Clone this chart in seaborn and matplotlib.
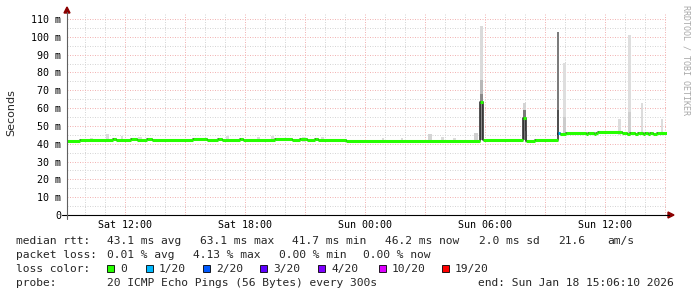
import matplotlib
matplotlib.use("Agg")
import matplotlib.pyplot as plt
import seaborn as sns
import pandas as pd
from matplotlib.patches import Rectangle, Polygon
from matplotlib.lines import Line2D

# ---------------- data (time = hours since Sat 00:00) ----------------
median_t = [9.10, 9.75, 11.40, 11.55, 12.30, 12.60, 13.10, 13.35, 15.40, 16.10,
            16.65, 16.85, 17.75, 17.90, 19.50, 20.35, 20.75, 21.10, 21.50, 21.65,
            23.05, 29.75, 29.90, 31.90, 32.05, 32.50, 33.65, 33.75, 34.05, 35.05,
            35.15, 35.45, 35.55, 35.65, 36.85, 37.10, 37.25, 37.50, 37.65, 37.90,
            38.00, 38.15, 38.25, 38.40, 38.60, 39.10]
median_v = [41.4, 42.2, 42.7, 42.2, 42.7, 42.2, 42.7, 42.2, 42.7, 42.2,
            42.7, 42.2, 42.7, 42.2, 42.7, 42.2, 42.7, 42.2, 42.7, 42.2,
            41.7, 63.4, 42.2, 54.4, 41.3, 42.1, 45.8, 45.5, 46.0, 45.4,
            46.0, 45.4, 46.0, 46.7, 46.0, 45.4, 46.0, 45.4, 46.0, 45.4,
            46.0, 45.4, 46.0, 45.4, 46.0, 46.0]
median_loss = [0, 0, 0, 0, 0, 0, 0, 0, 0, 0,
               0, 0, 0, 0, 0, 0, 0, 0, 0, 0,
               0, 0, 0, 0, 0, 0, 1, 0, 0, 0,
               0, 0, 0, 0, 0, 0, 0, 0, 0, 0,
               0, 0, 0, 0, 0, 0]

smoke_t0 = [10.25, 11.05, 11.80, 12.65, 17.05, 18.60, 19.30, 20.85, 21.80, 24.85,
            25.80, 27.15, 27.80, 28.40, 29.45, 29.75, 29.75, 29.75, 31.90, 31.90,
            32.00, 33.60, 33.60, 33.90, 33.90, 36.65, 37.15, 37.15, 37.80, 38.80]
smoke_t1 = [10.40, 11.20, 11.90, 12.85, 17.20, 18.75, 19.45, 21.05, 21.95, 24.95,
            25.90, 27.35, 27.95, 28.55, 29.65, 29.90, 29.90, 29.90, 32.05, 32.05,
            32.10, 33.70, 33.70, 34.05, 34.05, 36.80, 37.30, 37.30, 37.90, 38.90]
smoke_lo = [41.0, 41.0, 41.0, 41.0, 41.0, 41.0, 41.0, 41.0, 41.0, 40.5,
            40.5, 40.5, 40.5, 40.5, 40.5, 42.0, 42.0, 42.0, 42.0, 42.0,
            41.0, 45.0, 45.0, 45.0, 45.0, 45.0, 45.0, 45.0, 45.0, 45.0]
smoke_hi = [43.5, 45.3, 44.5, 44.0, 44.5, 44.0, 44.2, 44.0, 43.8, 43.4,
            43.2, 45.5, 44.0, 43.2, 46.0, 106.0, 76.0, 68.0, 63.0, 59.0,
            47.0, 103.0, 59.0, 85.5, 55.0, 54.0, 101.0, 58.0, 63.0, 54.0]
smoke_shade = ['#dcdcdc', '#dcdcdc', '#dcdcdc', '#dcdcdc', '#dcdcdc', '#dcdcdc', '#dcdcdc', '#dcdcdc', '#dcdcdc', '#dcdcdc',
               '#dcdcdc', '#d4d4d4', '#dcdcdc', '#dcdcdc', '#d0d0d0', '#dadada', '#b8b8b8', '#8a8a8a', '#d4d4d4', '#7a7a7a',
               '#cfcfcf', '#7c7c7c', '#505050', '#dedede', '#cccccc', '#dcdcdc', '#dedede', '#cfcfcf', '#dcdcdc', '#dcdcdc']

tick_hours = [12, 18, 24, 30, 36]
tick_labels = ['Sat 12:00', 'Sat 18:00', 'Sun 00:00', 'Sun 06:00', 'Sun 12:00']
y_ticks = [0, 10, 20, 30, 40, 50, 60, 70, 80, 90, 100, 110]
y_labels = ['0', '10 m', '20 m', '30 m', '40 m', '50 m', '60 m', '70 m', '80 m', '90 m', '100 m', '110 m']

loss_labels = ['0', '1/20', '2/20', '3/20', '4/20', '10/20', '19/20']
loss_colors = ['#26ff00', '#00b8ff', '#0059ff', '#5e00ff', '#7e00ff', '#dd00ff', '#ff0000']

stats_rtt = ['median rtt:', '43.1 ms avg', '63.1 ms max', '41.7 ms min', '46.2 ms now', '2.0 ms sd', '21.6', 'am/s']
stats_loss = ['packet loss:', '0.01 % avg', '4.13 % max', '0.00 % min', '0.00 % now']
probe_text = '20 ICMP Echo Pings (56 Bytes) every 300s'
end_text = 'end: Sun Jan 18 15:06:10 2026'

# ---------------- figure ----------------
sns.set_style("white")
plt.rcParams['font.family'] = ['DejaVu Sans Mono', 'DejaVu Sans']
W, H = 697, 297
fig = plt.figure(figsize=(W / 100, H / 100), dpi=100)
fig.patch.set_facecolor('white')


def fx(x):
    return x / W


def fy(y):
    return 1 - y / H


ax = fig.add_axes([fx(67), fy(215), 600 / W, 202 / H])
ax.set_xlim(9.1, 39.1)
ax.set_ylim(0, 113.4)
for s in ax.spines.values():
    s.set_visible(False)

# grid
dot = (0, (1, 1.5))
for h in range(10, 40):
    major = (h % 3 == 0)
    ax.axvline(h, color='#f2b4b4' if major else '#d6d6d6', lw=0.72, ls=dot, zorder=0)
for v in range(5, 115, 5):
    major = (v % 10 == 0)
    ax.axhline(v, color='#f2b4b4' if major else '#d6d6d6', lw=0.72, ls=dot, zorder=0)

# smoke
df_smoke = pd.DataFrame({'t0': smoke_t0, 't1': smoke_t1, 'lo': smoke_lo,
                         'hi': smoke_hi, 'shade': smoke_shade})
ax.bar(df_smoke['t0'], df_smoke['hi'] - df_smoke['lo'], bottom=df_smoke['lo'],
       width=df_smoke['t1'] - df_smoke['t0'], align='edge', color=df_smoke['shade'],
       linewidth=0, zorder=2)

# median: dark step line + loss-coloured segments
df_med = pd.DataFrame({'t': median_t, 'v': median_v, 'loss': median_loss})
sns.lineplot(data=df_med, x='t', y='v', drawstyle='steps-post', color='#202020',
             lw=1.1, ax=ax, zorder=3, estimator=None)
seg_colors = [loss_colors[l] for l in median_loss[:-1]]
ax.hlines(median_v[:-1], median_t[:-1], median_t[1:], colors=seg_colors, lw=2.2, zorder=4)

ax.set_xlabel('')
ax.set_ylabel('')
ax.set_xticks(tick_hours)
ax.set_xticklabels(tick_labels)
ax.set_yticks(y_ticks)
ax.set_yticklabels(y_labels)
ax.tick_params(axis='both', length=0, labelsize=7.2, colors='black')
ax.tick_params(axis='y', pad=4.3)
ax.tick_params(axis='x', pad=3.5)

# axis lines with arrows
fig.add_artist(Line2D([fx(62), fx(669)], [fy(215), fy(215)], color='black', lw=0.8))
fig.add_artist(Line2D([fx(67), fx(67)], [fy(219), fy(12)], color='#606060', lw=0.8))
fig.add_artist(Polygon([[fx(668), fy(212)], [fx(668), fy(218)], [fx(674), fy(215)]],
                       closed=True, color='#8b0000', transform=fig.transFigure))
fig.add_artist(Polygon([[fx(64), fy(13)], [fx(70), fy(13)], [fx(67), fy(7)]],
                       closed=True, color='#8b0000', transform=fig.transFigure))

# y label
fig.text(fx(11), fy(113), 'Seconds', rotation=90, ha='center', va='center',
         fontsize=8, family='DejaVu Sans')
# watermark
fig.text(fx(686), fy(60), 'RRDTOOL / TOBI OETIKER', rotation=270, ha='center', va='center',
         fontsize=6, color='#a8a8a8', family='DejaVu Sans Mono')

fs = 8.1
rtt_x = [16, 107, 200, 292, 385, 479, 558, 607]
for x, t in zip(rtt_x, stats_rtt):
    fig.text(fx(x), fy(241), t, fontsize=fs, va='center', ha='left')
loss_x = [16, 107, 193, 279, 363]
for x, t in zip(loss_x, stats_loss):
    fig.text(fx(x), fy(255), t, fontsize=fs, va='center', ha='left')

fig.text(fx(16), fy(269), 'loss color:', fontsize=fs, va='center', ha='left')
box_x = [107, 146, 203, 260, 318, 379, 442]
for x, lab, col in zip(box_x, loss_labels, loss_colors):
    fig.add_artist(Rectangle((fx(x), fy(272)), 7 / W, 7 / H, facecolor=col,
                             edgecolor='black', lw=0.6, transform=fig.transFigure))
    fig.text(fx(x + 13), fy(269), lab, fontsize=fs, va='center', ha='left')

fig.text(fx(16), fy(283), 'probe:', fontsize=fs, va='center', ha='left')
fig.text(fx(107), fy(283), probe_text, fontsize=fs, va='center', ha='left')
fig.text(fx(478), fy(283), end_text, fontsize=fs, va='center', ha='left')

fig.savefig('out.png', dpi=100, facecolor='white')
